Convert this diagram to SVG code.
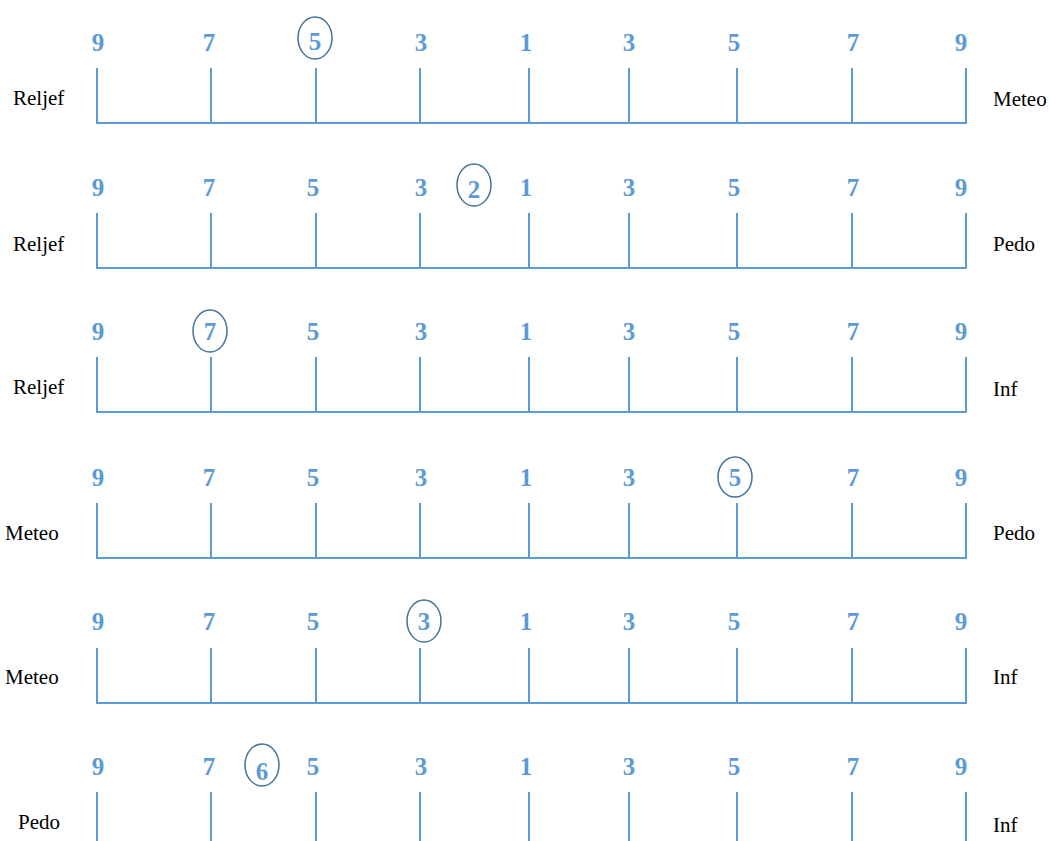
<svg xmlns="http://www.w3.org/2000/svg" width="1049" height="841" viewBox="0 0 1049 841">
<style>
.ln{stroke:#5B9BD5;stroke-width:2;fill:none}
.n{font-family:"Liberation Serif",serif;font-weight:bold;font-size:25px;fill:#5B9BD5;text-anchor:middle}
.lb{font-family:"Liberation Serif",serif;font-size:21px;fill:#000}
.c{fill:none;stroke:#41719C;stroke-width:1.5}
</style>
<defs>
<g id="ticks">
<path class="ln" d="M97,0V55M211,0V55M316,0V55M420,0V55M529,0V55M629,0V55M737,0V55M852,0V55M966,0V55"/>
</g>
</defs>
<rect width="1049" height="841" fill="#fff"/>
<g id="row1">
<text class="n" x="98" y="51">9</text>
<text class="n" x="209" y="51">7</text>
<text class="n" x="315" y="50">5</text>
<text class="n" x="421" y="51">3</text>
<text class="n" x="526" y="51">1</text>
<text class="n" x="629" y="51">3</text>
<text class="n" x="734" y="51">5</text>
<text class="n" x="853" y="51">7</text>
<text class="n" x="961" y="51">9</text>
<ellipse class="c" cx="315" cy="38" rx="17" ry="21"/>
<use href="#ticks" x="0" y="68"/>
<path class="ln" d="M96,123H967"/>
<text class="lb" x="13" y="105">Reljef</text>
<text class="lb" x="993" y="106">Meteo</text>
</g>
<g id="row2">
<text class="n" x="98" y="196">9</text>
<text class="n" x="209" y="196">7</text>
<text class="n" x="313" y="196">5</text>
<text class="n" x="421" y="196">3</text>
<text class="n" x="474" y="198">2</text>
<text class="n" x="526" y="196">1</text>
<text class="n" x="629" y="196">3</text>
<text class="n" x="734" y="196">5</text>
<text class="n" x="853" y="196">7</text>
<text class="n" x="961" y="196">9</text>
<ellipse class="c" cx="474" cy="185" rx="17" ry="21"/>
<use href="#ticks" x="0" y="213"/>
<path class="ln" d="M96,268H967"/>
<text class="lb" x="13" y="251">Reljef</text>
<text class="lb" x="993" y="251">Pedo</text>
</g>
<g id="row3">
<text class="n" x="98" y="340">9</text>
<text class="n" x="210" y="340">7</text>
<text class="n" x="313" y="340">5</text>
<text class="n" x="421" y="340">3</text>
<text class="n" x="526" y="340">1</text>
<text class="n" x="629" y="340">3</text>
<text class="n" x="734" y="340">5</text>
<text class="n" x="853" y="340">7</text>
<text class="n" x="961" y="340">9</text>
<ellipse class="c" cx="210" cy="331" rx="17" ry="21"/>
<use href="#ticks" x="0" y="357"/>
<path class="ln" d="M96,412H967"/>
<text class="lb" x="13" y="394">Reljef</text>
<text class="lb" x="993" y="396">Inf</text>
</g>
<g id="row4">
<text class="n" x="98" y="486">9</text>
<text class="n" x="209" y="486">7</text>
<text class="n" x="313" y="486">5</text>
<text class="n" x="421" y="486">3</text>
<text class="n" x="526" y="486">1</text>
<text class="n" x="629" y="486">3</text>
<text class="n" x="735" y="486">5</text>
<text class="n" x="853" y="486">7</text>
<text class="n" x="961" y="486">9</text>
<ellipse class="c" cx="735" cy="477" rx="17" ry="20"/>
<use href="#ticks" x="0" y="503"/>
<path class="ln" d="M96,558H967"/>
<text class="lb" x="5" y="540">Meteo</text>
<text class="lb" x="993" y="540">Pedo</text>
</g>
<g id="row5">
<text class="n" x="98" y="630">9</text>
<text class="n" x="209" y="630">7</text>
<text class="n" x="313" y="630">5</text>
<text class="n" x="424" y="630">3</text>
<text class="n" x="526" y="630">1</text>
<text class="n" x="629" y="630">3</text>
<text class="n" x="734" y="630">5</text>
<text class="n" x="853" y="630">7</text>
<text class="n" x="961" y="630">9</text>
<ellipse class="c" cx="424" cy="621" rx="17" ry="21"/>
<use href="#ticks" x="0" y="648"/>
<path class="ln" d="M96,703H967"/>
<text class="lb" x="5" y="684">Meteo</text>
<text class="lb" x="993" y="684">Inf</text>
</g>
<g id="row6">
<text class="n" x="98" y="775">9</text>
<text class="n" x="209" y="775">7</text>
<text class="n" x="262" y="780">6</text>
<text class="n" x="313" y="775">5</text>
<text class="n" x="421" y="775">3</text>
<text class="n" x="526" y="775">1</text>
<text class="n" x="629" y="775">3</text>
<text class="n" x="734" y="775">5</text>
<text class="n" x="853" y="775">7</text>
<text class="n" x="961" y="775">9</text>
<ellipse class="c" cx="262" cy="765" rx="17" ry="21"/>
<use href="#ticks" x="0" y="792"/>
<text class="lb" x="18" y="829">Pedo</text>
<text class="lb" x="993" y="832">Inf</text>
</g>
</svg>
